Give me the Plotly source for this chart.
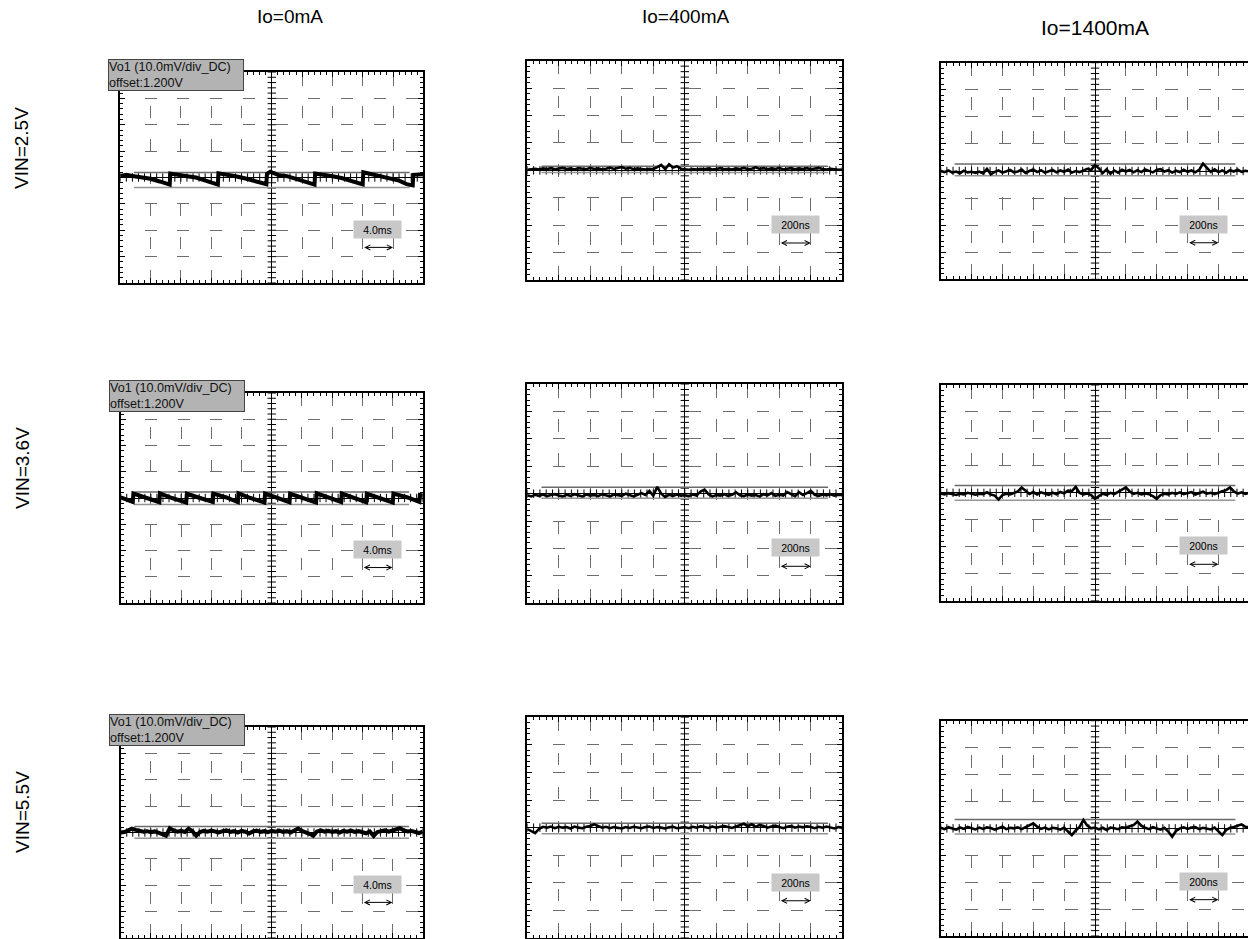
import numpy as np
import plotly.graph_objects as go

W, H = 1248, 939

# ---------------- text ----------------
col_titles = ["Io=0mA", "Io=400mA", "Io=1400mA"]
row_titles = ["VIN=2.5V", "VIN=3.6V", "VIN=5.5V"]
time_labels = ["4.0ms", "200ns", "200ns"]
ch_line1 = "Vo1 (10.0mV/div_DC)"
ch_line2 = "offset:1.200V"

# ---------------- waveform data (x, y in divisions) ----------------
# Io=0mA : sawtooth ripple (breakpoints)
r1c1_x = [-5.0, -4.8, -4.55, -4.3, -4.0, -3.7, -3.5, -3.37, -3.35, -3.1, -2.8, -2.5, -2.2, -1.95, -1.78,
          -1.76, -1.5, -1.2, -0.9, -0.6, -0.35, -0.18, -0.16, -0.05, 0.2, 0.5, 0.8, 1.1, 1.41, 1.43,
          1.7, 2.0, 2.3, 2.6, 2.85, 3.0, 3.02, 3.3, 3.6, 3.9, 4.2, 4.45, 4.65, 4.67, 5.0]
r1c1_y = [0.06, 0.1, 0.05, 0.0, -0.05, -0.15, -0.22, -0.27, 0.15, 0.12, 0.05, 0.0, -0.1, -0.2, -0.27,
          0.16, 0.12, 0.05, -0.03, -0.12, -0.2, -0.25, 0.14, 0.22, 0.1, 0.05, -0.05, -0.15, -0.27, 0.15,
          0.12, 0.05, -0.02, -0.12, -0.2, -0.26, 0.2, 0.12, 0.06, -0.02, -0.12, -0.25, -0.3, 0.1, 0.12]

r2c1_x = [-5.0, -4.8, -4.6, -4.58, -4.2, -3.72, -3.70, -3.3, -2.83, -2.81, -2.4, -1.95, -1.93, -1.5,
          -1.12, -1.10, -0.7, -0.24, -0.22, 0.2, 0.59, 0.61, 1.0, 1.47, 1.49, 1.9, 2.30, 2.32, 2.7,
          3.13, 3.15, 3.6, 4.01, 4.03, 4.5, 4.89, 4.91, 5.0]
r2c1_y = [0.02, -0.05, -0.15, 0.17, 0.02, -0.16, 0.18, 0.0, -0.17, 0.16, 0.01, -0.15, 0.17, 0.02,
          -0.16, 0.18, 0.0, -0.17, 0.17, 0.01, -0.16, 0.16, 0.02, -0.17, 0.18, 0.0, -0.15, 0.17, 0.01,
          -0.16, 0.16, 0.0, -0.17, 0.17, 0.02, -0.15, 0.12, 0.1]

# sampled traces: 81 samples across the 10 horizontal divisions
r3c1_y = [0.0, 0.02, 0.08, 0.15, 0.1, 0.06, 0.03, 0.05, 0.01, 0.04,
          0.0, -0.06, -0.12, 0.16, 0.08, 0.03, 0.06, 0.02, 0.14, 0.05,
          -0.12, 0.02, 0.06, 0.03, 0.07, 0.04, 0.0, 0.05, 0.08, 0.02,
          0.05, 0.0, 0.06, 0.03, -0.04, 0.04, 0.07, 0.02, 0.05, 0.01,
          0.06,
          0.03, 0.07, 0.02, 0.05, 0.0, 0.08, 0.15, 0.06, 0.02, -0.05,
          -0.12, 0.04, 0.08, 0.03, 0.06, 0.02, 0.05, 0.0, 0.06, 0.03,
          0.07, 0.02, 0.05, 0.01, -0.03, 0.04, -0.13, 0.02, 0.06, 0.08,
          0.03, 0.07, 0.1, 0.16, 0.08, 0.04, 0.06, 0.02, -0.02, 0.03]

r1c2_y = [0.02, 0.04, 0.06, 0.03, 0.07, 0.05, 0.08, 0.04, 0.06, 0.09,
          0.05, 0.07, 0.03, 0.08, 0.06, 0.04, 0.09, 0.05, 0.07, 0.03,
          0.06, 0.1, 0.05, 0.08, 0.12, 0.06, 0.09, 0.04, 0.07, 0.05,
          0.03, 0.06, 0.04, 0.12, 0.2, 0.05, 0.22, 0.1, 0.15, 0.06,
          0.04,
          0.02, 0.05, 0.03, 0.06, 0.04, 0.07, 0.03, 0.05, 0.08, 0.04,
          0.06, 0.03, 0.07, 0.05, 0.09, 0.04, 0.06, 0.11, 0.05, 0.08,
          0.04, 0.07, 0.05, 0.09, 0.03, 0.06, 0.08, 0.04, 0.07, 0.05,
          0.08, 0.04, 0.06, 0.09, 0.05, 0.03, 0.06, 0.04, 0.02, 0.03]

r2c2_y = [-0.06, -0.1, -0.04, -0.08, -0.03, -0.09, -0.05, -0.02, -0.07, -0.1,
          -0.04, -0.08, -0.02, -0.06, -0.1, -0.03, -0.07, -0.05, -0.09, -0.02,
          -0.06, -0.1, -0.03, -0.05, -0.08, 0.0, -0.06, -0.1, -0.04, 0.02,
          -0.05, 0.1, -0.08, 0.25, 0.0, -0.12, -0.04, -0.08, -0.03, -0.07,
          -0.06,
          -0.09, -0.03, -0.07, 0.08, 0.15, -0.02, -0.1, -0.05, -0.07, -0.02,
          -0.08, -0.04, 0.05, -0.06, -0.09, -0.03, -0.07, -0.05, -0.1, -0.02,
          -0.06, 0.02, -0.08, -0.04, -0.07, 0.06, -0.03, -0.09, 0.05, -0.05,
          0.02, 0.1, -0.04, -0.08, -0.03, -0.06, -0.02, -0.07, -0.04, -0.05]

r3c2_y = [-0.05, -0.12, -0.2, -0.04, 0.03, 0.0, 0.04, -0.02, 0.03, 0.0,
          0.02, -0.03, 0.04, 0.0, -0.02, 0.03, 0.06, 0.12, 0.05, 0.0,
          0.03, -0.02, 0.02, 0.0, -0.03, 0.02, -0.01, 0.03, 0.0, -0.02,
          0.02, 0.04, -0.01, 0.02, 0.0, -0.03, 0.01, 0.03, -0.02, 0.0,
          0.02,
          -0.02, 0.03, 0.0, 0.05, 0.02, -0.01, 0.04, 0.0, 0.03, 0.06,
          0.02, -0.01, 0.04, 0.08, 0.14, 0.05, 0.12, 0.03, 0.1, 0.06,
          0.0, 0.04, 0.07, 0.02, -0.02, 0.03, 0.06, 0.0, 0.04, 0.01,
          0.05, 0.02, -0.02, 0.03, 0.0, 0.04, 0.01, -0.03, 0.02, 0.0]

r1c3_y = [0.0, -0.04, 0.02, -0.06, -0.02, -0.08, 0.01, -0.05, -0.03, -0.07,
          -0.02, -0.09, 0.08, -0.12, -0.03, 0.02, -0.06, -0.01, 0.04, -0.05,
          -0.02, 0.05, -0.07, 0.0, 0.06, -0.04, 0.03, -0.06, -0.01, 0.04,
          -0.05, 0.02, -0.03, 0.05, -0.06, 0.0, -0.04, 0.03, 0.08, 0.04,
          0.22,
          0.1, -0.08, 0.06, -0.1, 0.02, -0.06, 0.05, -0.02, 0.04, -0.05,
          0.03, -0.04, 0.06, 0.0, -0.05, 0.04, 0.07, -0.02, 0.03, -0.06,
          0.01, -0.04, 0.05, -0.03, 0.02, -0.05, 0.04, 0.27, 0.12, -0.03,
          0.06, -0.04, 0.02, -0.06, 0.03, -0.02, 0.05, -0.03, 0.01, -0.02]

r2c3_y = [-0.02, -0.06, -0.01, -0.05, -0.08, -0.03, -0.06, 0.0, -0.04, -0.07,
          -0.03, -0.05, 0.02, -0.06, -0.1, -0.25, -0.08, -0.03, -0.06, 0.0,
          0.05, 0.2, 0.08, -0.04, 0.03, -0.06, 0.02, -0.03, -0.07, 0.01,
          -0.05, 0.03, -0.02, 0.08, 0.06, 0.22, 0.0, -0.06, -0.02, -0.08,
          -0.22,
          -0.12, -0.03, -0.07, 0.0, -0.05, 0.04, 0.1, 0.2, 0.05, -0.04,
          0.0, -0.06, -0.02, -0.05, -0.12, -0.22, -0.08, -0.03, -0.06, 0.0,
          -0.04, 0.02, -0.05, -0.02, 0.03, -0.06, -0.01, 0.04, -0.03, 0.0,
          -0.05, 0.02, 0.06, 0.1, 0.2, 0.05, -0.03, 0.02, -0.04, 0.0]

r3c3_y = [0.02, -0.03, 0.04, 0.0, -0.05, 0.03, -0.02, 0.05, 0.0, -0.04,
          0.03, -0.02, 0.04, 0.01, -0.05, 0.02, 0.06, -0.03, 0.02, 0.0,
          0.04, -0.03, 0.05, 0.1, 0.19, 0.06, -0.02, 0.03, -0.04, 0.02,
          0.0, -0.05, 0.03, -0.12, -0.25, -0.08, 0.05, 0.31, 0.1, 0.0,
          0.03,
          -0.04, 0.02, -0.06, 0.03, 0.0, -0.03, 0.04, 0.02, 0.08, 0.12,
          0.25, 0.1, 0.02, -0.03, 0.04, 0.0, -0.05, 0.02, -0.12, -0.31,
          -0.1, 0.0, 0.04, -0.02, 0.03, 0.05, -0.03, 0.02, 0.0, -0.04,
          0.03, -0.1, -0.25, -0.06, 0.02, 0.05, 0.1, 0.15, 0.06, 0.04]

sample_t = np.linspace(-5, 5, 81)

# cursor (measurement) levels: upper, lower  (divisions)
cursor_hi = [[0.19, 0.15, 0.26], [0.23, 0.23, 0.27], [0.23, 0.16, 0.33]]
cursor_lo = [[-0.38, -0.08, -0.18], [-0.25, -0.17, -0.27], [-0.22, -0.22, -0.21]]
cursor_span = [-4.55, 4.55]

waves = [
    [(r1c1_x, r1c1_y), (sample_t, r1c2_y), (sample_t, r1c3_y)],
    [(r2c1_x, r2c1_y), (sample_t, r2c2_y), (sample_t, r2c3_y)],
    [(sample_t, r3c1_y), (sample_t, r3c2_y), (sample_t, r3c3_y)],
]

# ---------------- layout geometry (pixel boxes of each scope screen) ----------------
PANEL_BOX = [
    [(120.3, 72, 423.3, 283), (527.3, 60.7, 842.3, 280), (940.7, 62.7, 1249.3, 279.3)],
    [(120.7, 393, 422.7, 603), (527.3, 384, 842.3, 603.3), (940.7, 385, 1249.3, 600.7)],
    [(120.7, 727, 422.7, 938), (527.3, 717.3, 842.3, 938), (940.7, 720.7, 1249.3, 936)],
]
COL_TITLE_POS = [(290, 17), (685, 17), (1095, 27)]
COL_TITLE_SIZE = [19, 19, 21]
ROW_TITLE_POS = [(22, 148), (22, 468), (22, 812)]

GRID = "#6e6e6e"
FONT = "Liberation Sans, Arial, sans-serif"


def dash_pattern(c0, P, d):
    s = (c0 - d / 2.0) % P
    if s + d > P:
        a = s + d - P
        return f"{a:.2f}px,{s - a:.2f}px,{P - s:.2f}px,0px"
    return f"0px,{s:.2f}px,{d:.2f}px,{P - s - d:.2f}px"


fig = go.Figure()
annotations = []
layout_axes = {}

for r in range(3):
    for c in range(3):
        n = r * 3 + c + 1
        L, T, R, B = PANEL_BOX[r][c]
        xr = [-5, 5]
        if R > W:
            xr = [-5, -5 + 10 * (W - L) / (R - L)]
        Rv = min(R, W)
        divw = (R - L) / 10.0
        P = 1.08 * divw
        d = 12.5 * divw / 31.5
        xa = "x" if n == 1 else f"x{n}"
        ya = "y" if n == 1 else f"y{n}"
        common = dict(
            showticklabels=False, showline=True, linecolor="black", linewidth=2,
            ticks="inside", ticklen=5, tickcolor="black", tickwidth=1,
            tickmode="linear", tick0=0, dtick=1,
            showgrid=True, gridcolor=GRID, gridwidth=1.2,
            zeroline=True, zerolinecolor="black", zerolinewidth=1,
            minor=dict(ticks="inside", ticklen=3, tickcolor="black", tickwidth=1,
                       dtick=0.2, showgrid=False),
            fixedrange=True,
        )
        layout_axes["xaxis" if n == 1 else f"xaxis{n}"] = dict(
            common, domain=[L / W, Rv / W], range=xr, anchor=ya, mirror="ticks",
            griddash=dash_pattern(7.5, P, d),
        )
        layout_axes["yaxis" if n == 1 else f"yaxis{n}"] = dict(
            common, domain=[1 - B / H, 1 - T / H], range=[-4, 4], anchor=xa,
            mirror="ticks" if c < 2 else False,
            griddash=dash_pattern(divw, P, d),
        )

        # centre-cross graticule ticks
        tx = np.round(np.arange(-25, 26) * 0.2, 2)
        ty = np.round(np.arange(-20, 21) * 0.2, 2)
        fig.add_trace(go.Scatter(x=tx, y=np.zeros_like(tx), xaxis=xa, yaxis=ya, mode="markers",
                                 marker=dict(symbol="line-ns", size=6, line=dict(color="black", width=1)),
                                 hoverinfo="skip", showlegend=False))
        fig.add_trace(go.Scatter(x=np.zeros_like(ty), y=ty, xaxis=xa, yaxis=ya, mode="markers",
                                 marker=dict(symbol="line-ew", size=6, line=dict(color="black", width=1)),
                                 hoverinfo="skip", showlegend=False))
        # cursor lines
        for lvl, col in ((cursor_hi[r][c], "#6a6a6a"), (cursor_lo[r][c], "#959595")):
            fig.add_trace(go.Scatter(x=cursor_span, y=[lvl, lvl], xaxis=xa, yaxis=ya, mode="lines",
                                     line=dict(color=col, width=1.5), hoverinfo="skip", showlegend=False))
        # waveform
        wx, wy = waves[r][c]
        fig.add_trace(go.Scatter(x=wx, y=wy, xaxis=xa, yaxis=ya, mode="lines",
                                 line=dict(color="black", width=4 if c == 0 else 2.6),
                                 hoverinfo="skip", showlegend=False))
        # ground / channel marker at left edge
        fig.add_trace(go.Scatter(x=[-5 - 6 / divw], y=[0.05], xaxis=xa, yaxis=ya, mode="markers",
                                 marker=dict(symbol="square-open", size=5, color="#333",
                                             line=dict(width=1.5)),
                                 cliponaxis=False, hoverinfo="skip", showlegend=False))

        # timebase label box + arrow
        annotations.append(dict(
            x=3.5, y=-1.97, xref=xa, yref=ya, text=time_labels[c], showarrow=False,
            font=dict(family=FONT, size=10.5, color="black"), bgcolor="#c8c8c8",
            width=45, height=15, align="center"))
        annotations.append(dict(
            x=4, y=-2.65, ax=3, ay=-2.65, xref=xa, yref=ya, axref=xa, ayref=ya, text="",
            showarrow=True, arrowside="end+start", arrowhead=5, startarrowhead=5,
            arrowsize=1, startarrowsize=1, arrowwidth=1, arrowcolor="black"))

        # channel label box (first column)
        if c == 0:
            annotations.append(dict(
                x=-12 / (R - L), y=1 + 13 / (B - T), xref=f"{xa} domain", yref=f"{ya} domain",
                xanchor="left", yanchor="top", text=ch_line1 + "<br>" + ch_line2, showarrow=False,
                align="left", valign="top",
                font=dict(family=FONT, size=12.6, color="#111"), bgcolor="#b3b3b3",
                bordercolor="#444", borderwidth=1, borderpad=0, width=134))

for i, t in enumerate(col_titles):
    x, y = COL_TITLE_POS[i]
    annotations.append(dict(x=x / W, y=1 - y / H, xref="paper", yref="paper", text=t,
                            showarrow=False, xanchor="center", yanchor="middle",
                            font=dict(family=FONT, size=COL_TITLE_SIZE[i], color="black")))
for i, t in enumerate(row_titles):
    x, y = ROW_TITLE_POS[i]
    annotations.append(dict(x=x / W, y=1 - y / H, xref="paper", yref="paper", text=t,
                            showarrow=False, xanchor="center", yanchor="middle", textangle=-90,
                            font=dict(family=FONT, size=19, color="black")))

fig.update_layout(
    width=W, height=H, margin=dict(l=0, r=0, t=0, b=0),
    paper_bgcolor="white", plot_bgcolor="white", showlegend=False,
    annotations=annotations, **layout_axes,
)

fig.write_html("out.html", config={"displayModeBar": False},
               post_script="document.body.style.margin='0';document.body.style.overflow='hidden';")
